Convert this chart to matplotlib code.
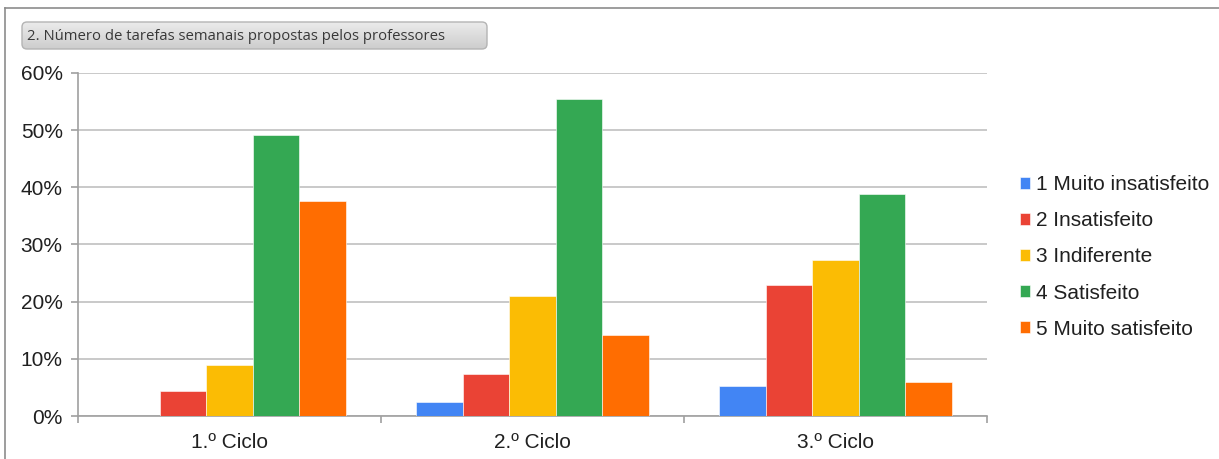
import numpy as np
import matplotlib
matplotlib.use("Agg")
import matplotlib.pyplot as plt
from matplotlib.patches import FancyBboxPatch
from matplotlib.lines import Line2D
from matplotlib.ticker import FuncFormatter, MultipleLocator

categories = ["1.º Ciclo", "2.º Ciclo", "3.º Ciclo"]
series_names = ["1 Muito insatisfeito", "2 Insatisfeito", "3 Indiferente",
                "4 Satisfeito", "5 Muito satisfeito"]
muito_insatisfeito = [0.0, 2.5, 5.3]
insatisfeito = [4.4, 7.4, 22.9]
indiferente = [9.0, 21.0, 27.3]
satisfeito = [49.1, 55.4, 38.9]
muito_satisfeito = [37.6, 14.1, 5.9]
series_values = [muito_insatisfeito, insatisfeito, indiferente, satisfeito, muito_satisfeito]
colors = ["#4285F4", "#EA4335", "#FBBC04", "#34A853", "#FF6D01"]
title = "2. Número de tarefas semanais propostas pelos professores"

W, H = 1219, 459
fig = plt.figure(figsize=(W / 100, H / 100), dpi=100)
fig.patch.set_facecolor("white")

# outer border (top and left)
fig.add_artist(Line2D([5 / W, 1], [1 - 8 / H, 1 - 8 / H], color="#8c8c8c", lw=1.2))
fig.add_artist(Line2D([5 / W, 5 / W], [0, 1 - 8 / H], color="#8c8c8c", lw=1.2))

# title box with gradient
bx0, bx1, by0, by1 = 22, 487, 22, 49
tax = fig.add_axes([0, 0, 1, 1], zorder=5)
tax.set_xlim(0, W)
tax.set_ylim(H, 0)
tax.axis("off")
box = FancyBboxPatch((bx0, by0), bx1 - bx0, by1 - by0,
                     boxstyle="round,pad=0,rounding_size=5",
                     facecolor="none", edgecolor="#b4b4b4", lw=1.0, zorder=3)
tax.add_patch(box)
grad = np.linspace(0, 1, 64).reshape(-1, 1)
img = tax.imshow(grad, cmap=matplotlib.colors.LinearSegmentedColormap.from_list(
    "g", ["#ebebeb", "#cdcdcd"]), extent=(bx0, bx1, by1, by0), aspect="auto", zorder=2)
img.set_clip_path(box)
tax.set_xlim(0, W)
tax.set_ylim(H, 0)
tax.text(bx0 + 5, (by0 + by1) / 2 + 0.5, title, fontsize=10.75, family="Open Sans",
         color="#383838", va="center", ha="left", zorder=4)

# main axes
left, right, top, bottom = 78, 987, 73, 416
ax = fig.add_axes([left / W, 1 - bottom / H, (right - left) / W, (bottom - top) / H])
n = len(series_values)
group = 0.767
w = group / n
x = np.arange(len(categories))
for j, (name, vals, c) in enumerate(zip(series_names, series_values, colors)):
    ax.bar(x + (j - (n - 1) / 2) * w, vals, width=w, color=c, label=name,
           edgecolor="white", linewidth=0.4, zorder=3)

ax.set_xlim(-0.5, len(categories) - 0.5)
ax.set_ylim(0, 60)
ax.yaxis.set_major_locator(MultipleLocator(10))
ax.yaxis.set_major_formatter(FuncFormatter(lambda v, p: f"{int(v)}%"))
ax.grid(axis="y", color="#c0c0c0", lw=1.2, zorder=0)
ax.set_axisbelow(True)
for s in ["top", "right"]:
    ax.spines[s].set_visible(False)
ax.spines["left"].set_color("#a0a0a0")
ax.spines["bottom"].set_color("#a0a0a0")
ax.spines["left"].set_linewidth(1.2)
ax.spines["bottom"].set_linewidth(1.2)

ax.set_xticks(x)
ax.set_xticklabels(categories)
ax.set_xticks(np.arange(-0.5, len(categories)), minor=True)
ax.tick_params(axis="x", which="major", length=0, pad=12, labelsize=15)
ax.tick_params(axis="x", which="minor", length=5, color="#a0a0a0", width=1.2)
ax.tick_params(axis="y", length=5, color="#a0a0a0", width=1.2, labelsize=15, pad=6)
for lab in ax.get_xticklabels() + ax.get_yticklabels():
    lab.set_family("Liberation Sans")
    lab.set_color("#202020")

leg = ax.legend(loc="center left", bbox_to_anchor=(1020 / W, 1 - 257 / H),
                bbox_transform=fig.transFigure, frameon=False,
                prop={"family": "Liberation Sans", "size": 15},
                handlelength=0.5, handleheight=0.5, handletextpad=0.25,
                labelspacing=0.82, borderaxespad=0, borderpad=0)
for t in leg.get_texts():
    t.set_color("#202020")

fig.savefig("out.png", dpi=100, facecolor="white")
